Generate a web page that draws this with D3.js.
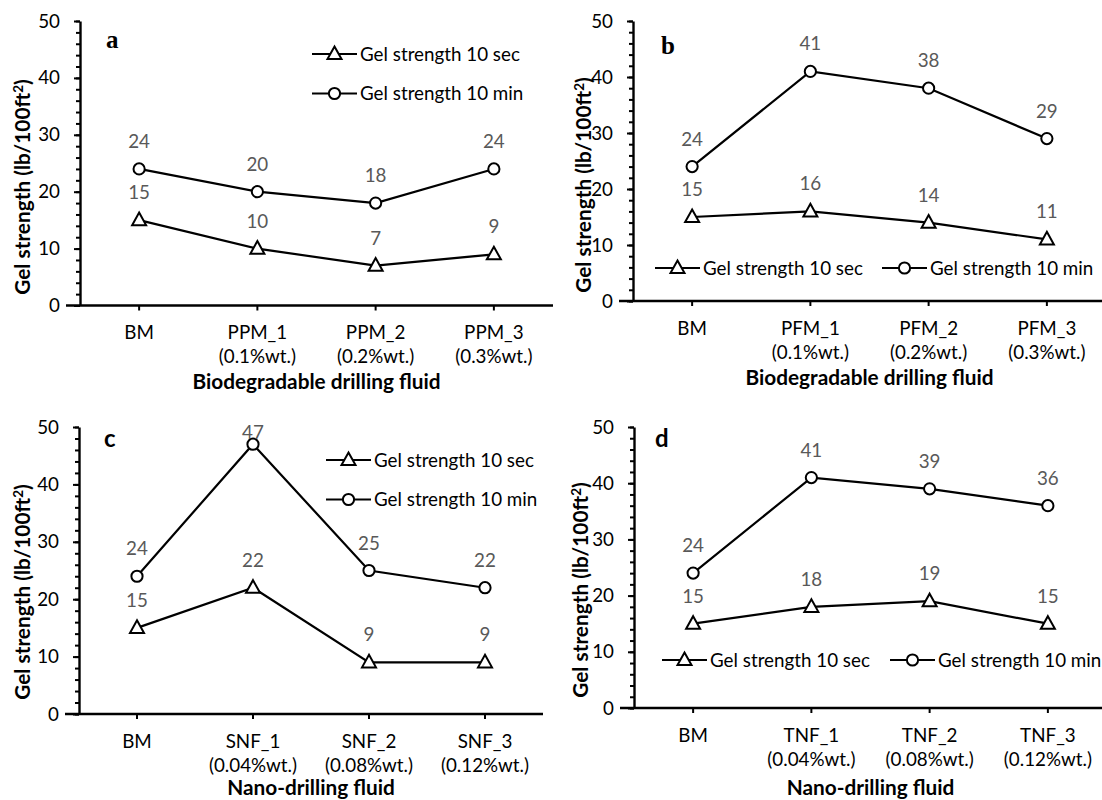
<!DOCTYPE html>
<html><head><meta charset="utf-8">
<script src="https://cdn.jsdelivr.net/npm/d3@7"></script>
<style>
body{margin:0;background:#fff;}
svg{display:block;}
</style></head>
<body>
<svg id="chart" width="1102" height="800" style="font-family:Lato,'Open Sans',sans-serif"></svg>
<script>
// ---- data ----
const yTicks = [0, 10, 20, 30, 40, 50];
const seriesNames = ["Gel strength 10 sec", "Gel strength 10 min"];

const catsA = ["BM", "PPM_1", "PPM_2", "PPM_3"];
const subsA = ["", "(0.1%wt.)", "(0.2%wt.)", "(0.3%wt.)"];
const secA = [15, 10, 7, 9];
const minA = [24, 20, 18, 24];

const catsB = ["BM", "PFM_1", "PFM_2", "PFM_3"];
const subsB = ["", "(0.1%wt.)", "(0.2%wt.)", "(0.3%wt.)"];
const secB = [15, 16, 14, 11];
const minB = [24, 41, 38, 29];

const catsC = ["BM", "SNF_1", "SNF_2", "SNF_3"];
const subsC = ["", "(0.04%wt.)", "(0.08%wt.)", "(0.12%wt.)"];
const secC = [15, 22, 9, 9];
const minC = [24, 47, 25, 22];

const catsD = ["BM", "TNF_1", "TNF_2", "TNF_3"];
const subsD = ["", "(0.04%wt.)", "(0.08%wt.)", "(0.12%wt.)"];
const secD = [15, 18, 19, 15];
const minD = [24, 41, 39, 36];

const xTitleBio = "Biodegradable drilling fluid";
const xTitleNano = "Nano-drilling fluid";

// ---- layout ----
const panels = [
  {id:"a", cats:catsA, subs:subsA, sec:secA, min:minA, xTitle:xTitleBio,
   x0:80, x1:553, yTop:21, yBot:305.5, labelSerif:true, lx:106, ly:47.5,
   legend:"stack", legX:312, legY:54, yTitleX:23, yTitleY:187, xTitleY:389},
  {id:"b", cats:catsB, subs:subsB, sec:secB, min:minB, xTitle:xTitleBio,
   x0:633, x1:1106, yTop:21, yBot:301, labelSerif:true, lx:661, ly:54,
   legend:"row", legX:655, legY:268, legX2:882, yTitleX:584, yTitleY:185, xTitleY:385},
  {id:"c", cats:catsC, subs:subsC, sec:secC, min:minC, xTitle:xTitleNano,
   x0:79, x1:543, yTop:427, yBot:714, labelSerif:false, lx:104, ly:447,
   legend:"stack", legX:326, legY:460, yTitleX:23, yTitleY:592, xTitleY:795},
  {id:"d", cats:catsD, subs:subsD, sec:secD, min:minD, xTitle:xTitleNano,
   x0:634, x1:1107, yTop:427, yBot:708, labelSerif:false, lx:655, ly:447,
   legend:"row", legX:662, legY:660, legX2:890, yTitleX:581, yTitleY:590, xTitleY:795}
];

const svg = d3.select("#chart");
const lblColor = "#595959";

// fit Lato sizes to the widths measured on the reference text
function fitSize(text, target, weight){
  const t = svg.append("text").attr("font-size",100).attr("font-weight",weight).text(text);
  const w = t.node().getComputedTextLength();
  t.remove();
  return Math.round(1000*target/w)/10;
}
const FS = fitSize(seriesNames[0], 160, "normal");
const BFS = fitSize(xTitleBio, 248, "bold");

function triPath(s){
  const h = s*0.9;
  return `M0,${-h*0.6}L${s/2},${h*0.4}L${-s/2},${h*0.4}Z`;
}

function drawMarker(g, type, x, y){
  if(type === 0){
    g.append("path").attr("d", triPath(14)).attr("transform",`translate(${x},${y})`)
      .attr("fill","#fff").attr("stroke","#000").attr("stroke-width",2).attr("stroke-linejoin","miter");
  } else {
    g.append("circle").attr("cx",x).attr("cy",y).attr("r",5.6)
      .attr("fill","#fff").attr("stroke","#000").attr("stroke-width",2);
  }
}

function legendItem(g, type, x, y, name){
  g.append("line").attr("x1",x).attr("x2",x+45).attr("y1",y).attr("y2",y)
    .attr("stroke","#000").attr("stroke-width",2.2);
  drawMarker(g, type, x+22.5, y);
  g.append("text").attr("x",x+48).attr("y",y).attr("dy","0.35em")
    .attr("font-size",FS).attr("fill","#000").text(name);
}

panels.forEach(p => {
  const g = svg.append("g");
  const x = d3.scaleBand().domain(p.cats).range([p.x0, p.x1]);
  const y = d3.scaleLinear().domain([0,50]).range([p.yBot, p.yTop]);
  const cx = c => x(c) + x.bandwidth()/2;

  // minor y ticks
  g.append("g").attr("transform",`translate(${p.x0},0)`)
    .call(d3.axisLeft(y).tickValues(d3.range(0,51,2)).tickSize(4).tickFormat(""))
    .call(s => s.select(".domain").remove())
    .call(s => s.selectAll("line").attr("stroke","#000").attr("stroke-width",2));
  // major y axis
  g.append("g").attr("transform",`translate(${p.x0},0)`)
    .call(d3.axisLeft(y).tickValues(yTicks).tickSize(6).tickPadding(14).tickSizeOuter(0))
    .call(s => s.select(".domain").attr("stroke","#000").attr("stroke-width",2.4))
    .call(s => s.selectAll("line").attr("stroke","#000").attr("stroke-width",2))
    .call(s => s.selectAll("text").attr("font-size",FS).attr("fill","#000")
      .style("font-family","Lato, sans-serif"));

  // x axis
  const xa = g.append("g").attr("transform",`translate(0,${p.yBot})`)
    .call(d3.axisBottom(x).tickSize(5).tickSizeOuter(0).tickFormat(""));
  xa.select(".domain").attr("stroke","#000").attr("stroke-width",2.4)
    .attr("d",`M${p.x0-14},0H${p.x1}`);
  xa.selectAll("line").attr("stroke","#000").attr("stroke-width",2);

  // category labels
  p.cats.forEach((c,i) => {
    const t = g.append("text").attr("x",cx(c)).attr("y",p.yBot+33.5)
      .attr("text-anchor","middle").attr("font-size",FS).attr("fill","#000");
    t.append("tspan").attr("x",cx(c)).text(c);
    if(p.subs[i]) t.append("tspan").attr("x",cx(c)).attr("dy",24).text(p.subs[i]);
  });

  // x title
  g.append("text").attr("x",(p.x0+p.x1)/2).attr("y",p.xTitleY)
    .attr("text-anchor","middle").attr("font-size",BFS).attr("font-weight","bold")
    .attr("fill","#000").text(p.xTitle);

  // y title
  const yt = g.append("text").attr("transform",`translate(${p.yTitleX},${p.yTitleY}) rotate(-90)`)
    .attr("text-anchor","middle").attr("dy","0.35em").attr("font-size",BFS)
    .attr("font-weight","bold").attr("fill","#000");
  yt.append("tspan").text("Gel strength (lb/100ft");
  yt.append("tspan").attr("font-size",BFS*0.65).attr("dy",-7).text("2");
  yt.append("tspan").attr("dy",7).text(")");

  // panel label
  g.append("text").attr("x",p.lx).attr("y",p.ly).attr("font-size",p.labelSerif?25:24)
    .attr("font-weight","bold")
    .style("font-family",p.labelSerif?"'Liberation Serif','DejaVu Serif',serif":"Lato, sans-serif")
    .attr("fill","#000").text(p.id);

  // series lines
  const line = d3.line().x(d => cx(d.c)).y(d => y(d.v));
  const series = [p.sec, p.min].map(vals => p.cats.map((c,i)=>({c, v:vals[i]})));
  series.forEach(pts => {
    g.append("path").datum(pts).attr("d",line).attr("fill","none")
      .attr("stroke","#000").attr("stroke-width",2.2);
  });
  series.forEach((pts, si) => {
    pts.forEach(d => drawMarker(g, si, cx(d.c), y(d.v)));
    pts.forEach(d => {
      const by = Math.max(y(d.v) - 21, p.yTop + 12);
      g.append("text").attr("x",cx(d.c)).attr("y",by).attr("text-anchor","middle")
        .attr("font-size",FS).attr("fill",lblColor).text(d.v);
    });
  });

  // legend
  const lg = g.append("g");
  if(p.legend === "stack"){
    legendItem(lg, 0, p.legX, p.legY, seriesNames[0]);
    legendItem(lg, 1, p.legX, p.legY+39.5, seriesNames[1]);
  } else {
    legendItem(lg, 0, p.legX, p.legY, seriesNames[0]);
    legendItem(lg, 1, p.legX2, p.legY, seriesNames[1]);
  }
});
</script>
</body></html>
